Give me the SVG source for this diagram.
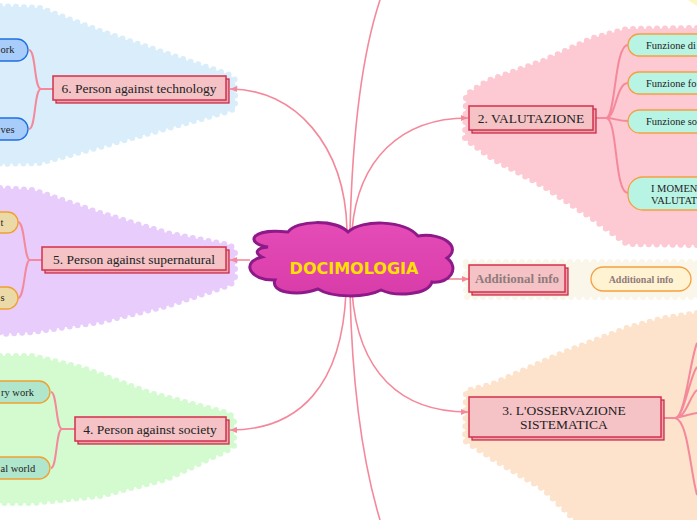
<svg xmlns="http://www.w3.org/2000/svg" width="697" height="520" viewBox="0 0 697 520">
<defs>
<style>
.bg{stroke-width:6;stroke-linecap:round;stroke-linejoin:round;stroke-dasharray:0 8}
.conn{fill:none;stroke:#f4899c;stroke-width:1.6}
.sub{fill:none;stroke:#f4899c;stroke-width:2}
.box{fill:#f5c2c6;stroke:#d4304c;stroke-width:1.5}
.shadow{fill:#eaa6ae;stroke:#c8203e;stroke-width:1.2}
.bt{font-family:"Liberation Serif","Times New Roman",serif;font-size:13.5px;fill:#222;text-anchor:middle}
.st{font-family:"Liberation Serif","Times New Roman",serif;font-size:10.5px;fill:#222}
.gt{font-family:"Liberation Serif",serif;font-weight:bold;fill:#8f7b7b;text-anchor:middle}
</style>
<marker id="arr" markerWidth="8" markerHeight="8" refX="7" refY="4" orient="auto" markerUnits="userSpaceOnUse">
<path d="M0,1 L7,4 L0,7 Z" fill="#f4899c"/>
</marker>
<linearGradient id="cloudg" x1="0" y1="0" x2="0" y2="1">
<stop offset="0" stop-color="#e54cb8"/>
<stop offset="1" stop-color="#d83ca8"/>
</linearGradient>
</defs>

<g id="backgrounds">
<path class="bg" fill="#d9eefa" stroke="#d9eefa" d="M0,6 L40,8 L100,31 L230,75 L235,80 L235,108 L230,111 L100,147 L40,163 L0,164 Z"/>
<path class="bg" fill="#e8ccfb" stroke="#e8ccfb" d="M0,188 L33,190 L100,213 L167,233 L230,245 L235,250 L235,280 L230,285 L167,306 L100,322 L33,332 L0,334 Z"/>
<path class="bg" fill="#d4fbd0" stroke="#d4fbd0" d="M0,356 L33,356 L83,368 L150,393 L228,413 L234,418 L234,446 L228,450 L167,479 L100,496 L33,503 L0,503 Z"/>
<path class="bg" fill="#fdc9d2" stroke="#fdc9d2" d="M697,28 L627,29 L593,38 L543,61 L487,81 L466,95 L465,139 L493,159 L543,186 L593,219 L627,244 L697,245 Z"/>
<path class="bg" fill="#faf6ea" stroke="#faf6ea" d="M466,262 L697,262 L697,297 L466,297 Z"/>
<path class="bg" fill="#fde2cc" stroke="#fde2cc" d="M697,313 L660,319 L627,328 L560,354 L493,384 L466,391 L465,441 L493,459 L543,489 L577,522 L697,522 Z"/>
<path fill="#fdf6c0" d="M688,0 L697,0 L697,6 Z"/>
</g>

<g id="connectors">
<path class="conn" d="M350,230 C352,150 360,60 380,0"/>
<path class="conn" marker-end="url(#arr)" d="M347,230 C345,145 295,89 230,89"/>
<path class="conn" marker-end="url(#arr)" d="M352,230 C358,160 400,118 468,118"/>
<path class="conn" marker-end="url(#arr)" d="M250,260 L230,260"/>
<path class="conn" marker-end="url(#arr)" d="M444,279 L469,279"/>
<path class="conn" marker-end="url(#arr)" d="M346,292 C342,385 300,430 230,430"/>
<path class="conn" marker-end="url(#arr)" d="M352,292 C358,372 400,412 468,412"/>
<path class="conn" d="M350,292 C352,380 362,460 380,520"/>

<path class="sub" d="M53,89 L41,89 C34,89 36,50 29,50 M41,89 C34,89 36,129 29,129"/>
<path class="sub" d="M42,260 L30,260 C24,260 25,222 18,222 M30,260 C24,260 25,298 18,298"/>
<path class="sub" d="M75,429 L62,429 C56,429 57,392 51,392 M62,429 C56,429 57,468 51,468"/>
<path class="sub" d="M594,118 L606,118 C616,118 614,45 628,45 M606,118 C616,118 616,83 628,83 M606,118 C614,118 618,121 628,121 M606,118 C618,118 614,193 628,193"/>
<path class="sub" d="M662,418 L675,418 C685,418 690,360 697,343 M675,418 C684,418 690,375 697,367 M675,418 C686,418 690,395 697,390 M675,418 C686,416 690,414 697,413 M675,418 C688,420 690,470 697,495"/>
</g>

<g id="center">
<path fill="url(#cloudg)" stroke="#8e1a8a" stroke-width="3" d="M268,247 C246,244 248,228 288,232 C296,220 335,219 348,232 C362,219 404,220 418,236 C444,232 462,248 447,258 C460,268 450,284 432,282 C428,295 396,297 381,290 C366,298 332,298 318,289 C296,297 270,292 275,280 C250,281 240,262 262,257 C254,253 256,248 268,247 Z"/>
<text x="354" y="274" font-family="'DejaVu Sans',Verdana,sans-serif" font-weight="bold" font-size="16" fill="#ffe000" text-anchor="middle">DOCIMOLOGIA</text>
</g>

<g id="n6">
<rect class="shadow" x="56" y="79" width="173" height="24"/>
<rect class="box" x="53" y="76" width="173" height="24"/>
<text class="bt" x="139" y="93">6. Person against technology</text>
</g>
<g id="n6a">
<rect x="-60" y="39" width="88" height="22" rx="11" fill="#a8cdfa" stroke="#1f6fe0" stroke-width="1.3"/>
<text class="st" x="0.5" y="53">ork</text>
</g>
<g id="n6b">
<rect x="-60" y="118" width="88" height="22" rx="11" fill="#a8cdfa" stroke="#1f6fe0" stroke-width="1.3"/>
<text class="st" x="0.5" y="133">ves</text>
</g>

<g id="n5">
<rect class="shadow" x="45" y="250" width="184" height="23"/>
<rect class="box" x="42" y="247" width="184" height="23"/>
<text class="bt" x="134" y="264">5. Person against supernatural</text>
</g>
<g id="n5a">
<rect x="-70" y="212" width="88" height="21" rx="10.5" fill="#ebd9a8" stroke="#f0a030" stroke-width="1.3"/>
<text class="st" x="0.5" y="226">t</text>
</g>
<g id="n5b">
<rect x="-70" y="287" width="88" height="22" rx="11" fill="#ebd9a8" stroke="#f0a030" stroke-width="1.3"/>
<text class="st" x="0.5" y="301">s</text>
</g>

<g id="n4">
<rect class="shadow" x="78" y="420" width="151" height="24"/>
<rect class="box" x="75" y="417" width="151" height="24"/>
<text class="bt" x="150" y="434">4. Person against society</text>
</g>
<g id="n4a">
<rect x="-50" y="381" width="100" height="22" rx="11" fill="#b0e6cc" stroke="#f0a030" stroke-width="1.3"/>
<text class="st" x="1" y="396">ry work</text>
</g>
<g id="n4b">
<rect x="-50" y="457" width="100" height="22" rx="11" fill="#b0e6cc" stroke="#f0a030" stroke-width="1.3"/>
<text class="st" x="0.5" y="472">al world</text>
</g>

<g id="n2">
<rect class="shadow" x="472" y="109" width="124" height="24"/>
<rect class="box" x="469" y="106" width="124" height="24"/>
<text class="bt" x="531" y="123">2. VALUTAZIONE</text>
</g>
<g id="n2a">
<rect x="628" y="34" width="120" height="22" rx="11" fill="#b8f4e4" stroke="#f5a040" stroke-width="1.3"/>
<text class="st" x="646" y="49">Funzione di</text>
</g>
<g id="n2b">
<rect x="628" y="72" width="120" height="22" rx="11" fill="#b8f4e4" stroke="#f5a040" stroke-width="1.3"/>
<text class="st" x="646" y="87">Funzione fo</text>
</g>
<g id="n2c">
<rect x="628" y="110" width="120" height="23" rx="11.5" fill="#b8f4e4" stroke="#f5a040" stroke-width="1.3"/>
<text class="st" x="646" y="125">Funzione so</text>
</g>
<g id="n2d">
<rect x="628" y="177" width="120" height="33" rx="15" fill="#b8f4e4" stroke="#f5a040" stroke-width="1.3"/>
<text class="st" x="651" y="192">I MOMEN</text>
<text class="st" x="651" y="204">VALUTAT</text>
</g>

<g id="nadd">
<rect class="shadow" x="472" y="268" width="96" height="27"/>
<rect class="box" x="469" y="265" width="96" height="27"/>
<text class="gt" x="517" y="283" font-size="13">Additional info</text>
</g>
<g id="nadd2">
<rect x="591" y="267" width="100" height="24" rx="12" fill="#fff3d2" stroke="#f5a040" stroke-width="1.3"/>
<text class="gt" x="641" y="283" font-size="10">Additional info</text>
</g>

<g id="n3">
<rect class="shadow" x="472" y="400" width="192" height="40"/>
<rect class="box" x="469" y="397" width="192" height="40"/>
<text class="bt" x="564" y="415" font-size="12.5">3. L'OSSERVAZIONE</text>
<text class="bt" x="564" y="429" font-size="12.5">SISTEMATICA</text>
</g>
</svg>
